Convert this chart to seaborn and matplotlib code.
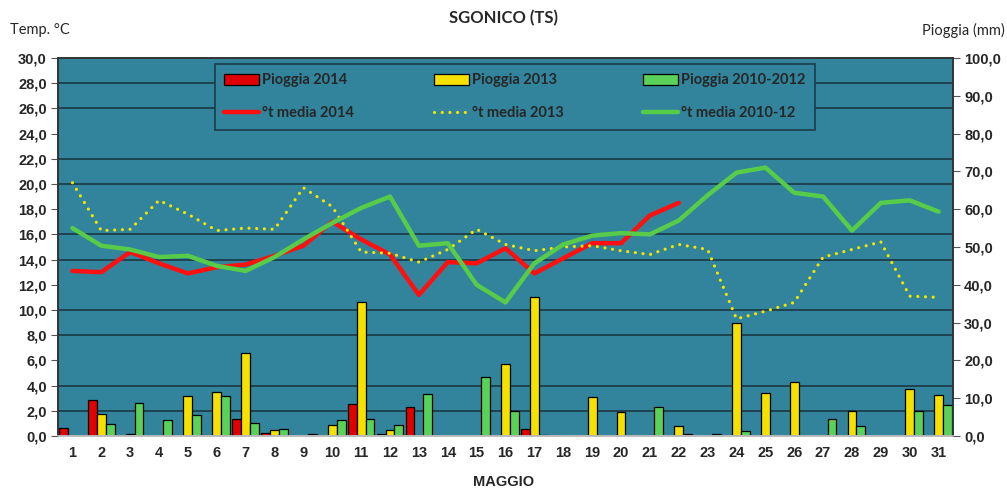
import numpy as np
import pandas as pd
import matplotlib
matplotlib.use('Agg')
import matplotlib.pyplot as plt
from matplotlib.ticker import FuncFormatter, MultipleLocator
import seaborn as sns

# dati (maggio, Sgonico)
giorni = list(range(1, 32))

pioggia_2014 = [2.1, 9.5, 0, 0, 0, 0.1, 4.4, 0.7, 0, 0,
                8.5, 0.5, 7.8, 0, 0, 0, 1.8, 0, 0, 0,
                0, 0, 0, 0, 0, 0, 0, 0, 0, 0, 0]
pioggia_2013 = [0, 5.9, 0.6, 0, 10.7, 11.7, 21.9, 1.6, 0, 2.9,
                35.5, 1.7, 0, 0, 0, 19.0, 36.9, 0, 10.3, 6.3,
                0, 2.6, 0, 30.0, 11.3, 14.4, 0, 6.6, 0, 12.5, 10.8]
pioggia_1012 = [0.1, 3.3, 8.8, 4.2, 5.6, 10.7, 3.4, 1.9, 0.5, 4.3,
                4.6, 2.8, 11.0, 0.1, 15.5, 6.5, 0.3, 0.1, 0.1, 0.1,
                7.7, 0.5, 0.5, 1.3, 0, 0, 4.4, 2.6, 0.1, 6.6, 8.3]

t_2014 = [13.1, 13.0, 14.6, 13.7, 12.9, 13.4, 13.6, 14.3, 15.1, 17.0,
          15.6, 14.4, 11.2, 13.8, 13.7, 14.9, 12.9, 14.1, 15.3, 15.3,
          17.5, 18.5]
t_2013 = [20.1, 16.3, 16.4, 18.7, 17.6, 16.3, 16.5, 16.4, 19.7, 18.2,
          14.6, 14.5, 13.8, 14.8, 16.4, 15.2, 14.7, 15.0, 15.1, 14.7,
          14.4, 15.2, 14.8, 9.3, 9.9, 10.6, 14.2, 14.8, 15.4, 11.1, 11.0]
t_1012 = [16.5, 15.1, 14.8, 14.2, 14.3, 13.5, 13.1, 14.2, 15.6, 16.9,
          18.1, 19.0, 15.1, 15.3, 12.0, 10.6, 13.7, 15.2, 15.9, 16.1,
          16.0, 17.1, 19.1, 20.9, 21.3, 19.3, 19.0, 16.3, 18.5, 18.7, 17.8]

serie_pioggia = ['Pioggia 2014', 'Pioggia 2013', 'Pioggia 2010-2012']
colori_barre = ['#e00000', '#f5e000', '#5ad25a']

df = pd.DataFrame({
    'giorno': giorni * 3,
    'serie': np.repeat(serie_pioggia, 31),
    'mm': pioggia_2014 + pioggia_2013 + pioggia_1012,
})
df['mm'] = df['mm'].replace(0, np.nan)

sns.set_style('white')
plt.rcParams['font.family'] = ['Liberation Sans', 'DejaVu Sans']

sfondo = '#31849b'
griglia = '#1c3d4a'

fig = plt.figure(figsize=(10.07, 4.91), dpi=100)
ax_p = fig.add_axes([0.0576, 0.112, 0.8888, 0.770])
ax_p.set_facecolor(sfondo)

# barre pioggia (asse destro)
sns.barplot(data=df, x='giorno', y='mm', hue='serie', hue_order=serie_pioggia,
            palette=colori_barre, native_scale=True, width=0.92, gap=0,
            edgecolor='black', linewidth=0.9, saturation=1, ax=ax_p,
            legend=True)
ax_p.set_ylim(0, 100)
ax_p.yaxis.set_major_locator(MultipleLocator(10))
ax_p.yaxis.set_minor_locator(MultipleLocator(100 / 15))
ax_p.grid(False)
ax_p.grid(which='minor', axis='y', color=griglia, lw=1.3)
ax_p.set_axisbelow(True)
ax_p.set_ylabel('')
ax_p.set_xlabel('')

# temperature (asse sinistro)
ax_t = ax_p.twinx()
sns.lineplot(x=giorni[:len(t_2014)], y=t_2014, color='#ff1010', lw=3.2,
             label='°t media 2014', ax=ax_t)
sns.lineplot(x=giorni, y=t_2013, color='#f5e600', lw=2.3,
             linestyle=(0, (0.01, 2.4)), dash_capstyle='round',
             label='°t media 2013', ax=ax_t)
sns.lineplot(x=giorni, y=t_1012, color='#58cc48', lw=3.2,
             label='°t media 2010-12', ax=ax_t)
ax_t.set_ylim(0, 30)
ax_t.yaxis.set_major_locator(MultipleLocator(2))
ax_t.set_xlim(0.5, 31.5)

# pioggia a destra, temperatura a sinistra
ax_p.yaxis.tick_right()
ax_t.yaxis.tick_left()

fmt = FuncFormatter(lambda v, p: f'{v:.1f}'.replace('.', ','))
ax_t.yaxis.set_major_formatter(fmt)
ax_p.yaxis.set_major_formatter(fmt)

ax_p.set_xticks(giorni)
ax_p.set_xticks(np.arange(0.5, 32, 1), minor=True)
ax_p.set_xticklabels([str(g) for g in giorni])
ax_p.tick_params(axis='x', which='major', length=0, pad=7,
                 labelsize=10.5)
ax_p.tick_params(axis='x', which='minor', length=6, color='#888888')
ax_p.tick_params(axis='y', which='major', direction='out', length=5,
                 color='#555555', labelsize=10.5, pad=3)
ax_p.tick_params(axis='y', which='minor', length=0)
ax_t.tick_params(axis='y', direction='out', length=5, color='#555555',
                 labelsize=10.5, pad=3)
for lab in ax_p.get_xticklabels() + ax_p.get_yticklabels() + ax_t.get_yticklabels():
    lab.set_fontweight('bold')

for a in (ax_p, ax_t):
    for s in a.spines.values():
        s.set_color('#333333')
        s.set_linewidth(1.2)
    a.spines['bottom'].set_color('#bbbbbb')

# legenda combinata
h_b, l_b = ax_p.get_legend_handles_labels()
h_l, l_l = ax_t.get_legend_handles_labels()
ax_p.get_legend().remove()
ax_t.get_legend().remove()
handles, labels = [], []
for i in range(3):
    handles += [h_b[i], h_l[i]]
    labels += [l_b[i], l_l[i]]
leg = ax_t.legend(handles, labels, ncol=3, loc='lower left',
                  bbox_to_anchor=(0.1754, 0.81, 0.670, 0.17), mode='expand',
                  borderaxespad=0, frameon=True, fancybox=False,
                  facecolor=sfondo, edgecolor='#1c3d4a', framealpha=1,
                  handlelength=2.4, handleheight=0.8, handletextpad=0.2,
                  labelspacing=1.3, borderpad=0.65,
                  prop={'family': 'Lato', 'size': 10.5, 'weight': 'bold'})
leg.get_frame().set_linewidth(1.2)

fig.text(0.5, 0.963, 'SGONICO (TS)', ha='center', va='center',
         fontsize=12, fontweight='bold', family='Lato')
fig.text(0.01, 0.938, 'Temp. °C', ha='left', va='center', fontsize=10.5,
         family='Lato')
fig.text(0.998, 0.938, 'Pioggia (mm)', ha='right', va='center',
         fontsize=10.5, family='Lato')
fig.text(0.5, 0.018, 'MAGGIO', ha='center', va='center', fontsize=10.5,
         fontweight='bold')

fig.savefig('out.png', dpi=100)
